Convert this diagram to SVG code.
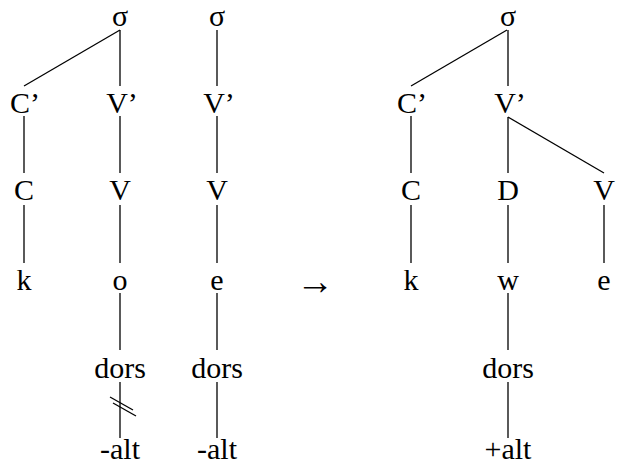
<svg xmlns="http://www.w3.org/2000/svg" width="617" height="465" viewBox="0 0 617 465">
<style>
text{font-family:'Liberation Serif','Times New Roman','DejaVu Serif',serif;font-size:30px;fill:#000;text-anchor:middle}
line{stroke:#000;stroke-width:1.3}
</style>
<rect width="617" height="465" fill="#fff"/>
<g id="connectors">
<line x1="120" y1="30" x2="24" y2="86"/>
<line x1="120" y1="30" x2="120" y2="86"/>
<line x1="24" y1="116" x2="24" y2="173"/>
<line x1="120" y1="116" x2="120" y2="173"/>
<line x1="24" y1="205" x2="24" y2="263"/>
<line x1="120" y1="205" x2="120" y2="263"/>
<line x1="120" y1="293" x2="120" y2="350"/>
<line x1="120" y1="382" x2="120" y2="438"/>
<line x1="110" y1="397" x2="133" y2="410"/>
<line x1="113" y1="403" x2="136" y2="416"/>
<line x1="217" y1="30" x2="217" y2="86"/>
<line x1="217" y1="116" x2="217" y2="173"/>
<line x1="217" y1="205" x2="217" y2="263"/>
<line x1="217" y1="293" x2="217" y2="350"/>
<line x1="217" y1="382" x2="217" y2="438"/>
<line x1="507" y1="30" x2="411" y2="86"/>
<line x1="508" y1="30" x2="508" y2="86"/>
<line x1="411" y1="116" x2="411" y2="173"/>
<line x1="508" y1="117" x2="508" y2="173"/>
<line x1="508" y1="117" x2="604" y2="173"/>
<line x1="411" y1="205" x2="411" y2="263"/>
<line x1="508" y1="205" x2="508" y2="263"/>
<line x1="604" y1="205" x2="604" y2="263"/>
<line x1="508" y1="293" x2="508" y2="350"/>
<line x1="508" y1="382" x2="508" y2="438"/>
</g>
<g id="l-sigma1"><text x="120" y="26">σ</text></g>
<g id="l-Cbar"><text x="25" y="113">C’</text></g>
<g id="l-Vbar1"><text x="122" y="113">V’</text></g>
<g id="l-C"><text x="24" y="200">C</text></g>
<g id="l-V1"><text x="120" y="200">V</text></g>
<g id="l-k"><text x="24" y="290">k</text></g>
<g id="l-o"><text x="120" y="290">o</text></g>
<g id="l-dors1"><text x="120" y="378">dors</text></g>
<g id="l-alt1"><text x="120" y="459">-alt</text></g>
<g id="l-sigma2"><text x="217" y="26">σ</text></g>
<g id="l-Vbar2"><text x="219" y="113">V’</text></g>
<g id="l-V2"><text x="217" y="200">V</text></g>
<g id="l-e"><text x="217" y="290">e</text></g>
<g id="l-dors2"><text x="217" y="378">dors</text></g>
<g id="l-alt2"><text x="217" y="459">-alt</text></g>
<g id="arrow"><text x="315" y="294" style="font-size:38px">→</text></g>
<g id="r-sigma"><text x="508" y="26">σ</text></g>
<g id="r-Cbar"><text x="412" y="113">C’</text></g>
<g id="r-Vbar"><text x="510" y="113">V’</text></g>
<g id="r-C"><text x="411" y="200">C</text></g>
<g id="r-D"><text x="508" y="200">D</text></g>
<g id="r-V"><text x="604" y="200">V</text></g>
<g id="r-k"><text x="411" y="290">k</text></g>
<g id="r-w"><text x="508" y="290">w</text></g>
<g id="r-e"><text x="604" y="290">e</text></g>
<g id="r-dors"><text x="508" y="378">dors</text></g>
<g id="r-alt"><text x="508" y="459">+alt</text></g>
</svg>
